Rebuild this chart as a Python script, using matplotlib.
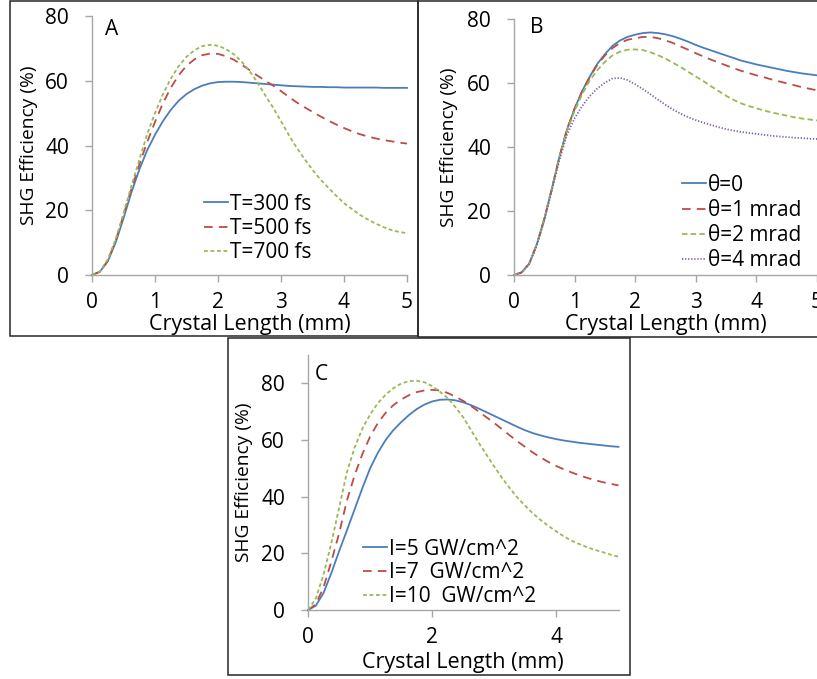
import matplotlib
matplotlib.use("Agg")
import matplotlib.pyplot as plt
from matplotlib.patches import Rectangle

plt.rcParams['font.family'] = ['Open Sans', 'DejaVu Sans']

# crystal length (mm)
length = [0, 0.125, 0.25, 0.375, 0.5, 0.625, 0.75, 0.875, 1, 1.125, 1.25,
          1.375, 1.5, 1.625, 1.75, 1.875, 2, 2.125, 2.25, 2.375, 2.5,
          2.625, 2.75, 2.875, 3, 3.125, 3.25, 3.375, 3.5, 3.625, 3.75,
          3.875, 4, 4.125, 4.25, 4.375, 4.5, 4.625, 4.75, 4.875, 5]

# panel A: pulse duration
t300 = [0, 1, 4.2, 10, 17.5, 25.5, 32.5, 38.5, 43.3, 47.5, 51,
        53.8, 55.9, 57.4, 58.5, 59.2, 59.6, 59.7, 59.7, 59.6, 59.4,
        59.2, 59, 58.8, 58.6, 58.4, 58.3, 58.2, 58.1, 58.1, 58,
        58, 57.9, 57.9, 57.9, 57.9, 57.9, 57.8, 57.8, 57.8, 57.8]
t500 = [0, 1, 4.4, 10.5, 18.5, 26.5, 34, 41, 47.3, 53, 57.8,
        61.7, 64.6, 66.6, 67.9, 68.4, 68.3, 67.6, 66.5, 65, 63.3,
        61.6, 60, 58.5, 56.8, 55, 53.3, 51.8, 50.4, 49, 47.7,
        46.5, 45.4, 44.4, 43.5, 42.8, 42.2, 41.7, 41.3, 40.9, 40.6]
t700 = [0, 1.1, 4.8, 11, 19, 27.5, 35.5, 43.5, 50, 55.8, 60.6,
        64.5, 67.4, 69.4, 70.7, 71.1, 70.8, 69.8, 68.2, 65.9, 63,
        59.5, 55.5, 51.7, 47.5, 43.2, 39.3, 35.8, 32.5, 29.5, 27,
        24.5, 22.2, 20.4, 18.6, 17.2, 15.9, 14.8, 13.9, 13.3, 12.9]

# panel B: angular mismatch
th0 = [0, 0.8, 3.5, 9.5, 17.5, 27, 37, 45.5, 52, 57.5, 62,
       66, 69, 71.6, 73.3, 74.4, 75.1, 75.6, 75.8, 75.6, 75.2,
       74.6, 73.8, 72.9, 71.9, 71, 70.2, 69.4, 68.6, 67.8, 67,
       66.4, 65.8, 65.3, 64.8, 64.3, 63.8, 63.4, 63, 62.7, 62.4]
th1 = [0, 0.8, 3.5, 9.5, 17.5, 27, 37, 45.5, 52, 57.4, 61.8,
       65.7, 68.6, 70.9, 72.5, 73.5, 74, 74.4, 74.4, 74, 73.3,
       72.5, 71.4, 70.4, 69.3, 68.3, 67.3, 66.4, 65.5, 64.6, 63.8,
       63.1, 62.4, 61.8, 61.1, 60.5, 59.9, 59.3, 58.7, 58.2, 57.7]
th2 = [0, 0.8, 3.5, 9.5, 17.5, 27, 36.8, 45, 51.3, 56.5, 60.8,
       64, 66.6, 68.6, 69.8, 70.4, 70.5, 70.3, 69.6, 68.7, 67.6,
       66.3, 65, 63.5, 62, 60.6, 59, 57.5, 56, 54.7, 53.6,
       52.8, 52.1, 51.4, 50.8, 50.3, 49.8, 49.3, 48.9, 48.6, 48.3]
th4 = [0, 0.8, 3.4, 9.2, 17, 26.5, 36, 43.8, 49, 52.8, 55.9,
       58.3, 60.1, 61.4, 61.6, 60.9, 59.6, 58.1, 56.5, 54.8, 53.2,
       51.7, 50.4, 49.3, 48.4, 47.6, 46.9, 46.2, 45.6, 45.1, 44.7,
       44.4, 44.1, 43.8, 43.5, 43.3, 43.1, 42.9, 42.8, 42.6, 42.5]

# panel C: pump intensity
i5 = [0, 1.5, 6, 13, 20.7, 28, 35.5, 43, 50, 55.5, 60,
      63.5, 66.3, 68.8, 70.9, 72.5, 73.6, 74.2, 74.3, 74, 73.3,
      72.3, 71.1, 69.8, 68.5, 67.2, 65.9, 64.6, 63.4, 62.4, 61.6,
      60.9, 60.3, 59.8, 59.4, 59, 58.7, 58.4, 58.1, 57.8, 57.6]
i7 = [0, 2, 8, 17, 27, 38.5, 47.5, 55, 61.2, 66, 69.6,
      72.3, 74.3, 75.8, 76.9, 77.5, 77.7, 77.5, 76.6, 75.3, 73.8,
      72, 70, 68, 66, 63.8, 61.6, 59.5, 57.5, 55.5, 53.8,
      52.2, 50.8, 49.6, 48.5, 47.5, 46.6, 45.8, 45.1, 44.5, 44]
i10 = [0, 4, 12.5, 23.5, 36, 48.5, 57.3, 64, 69, 73, 76,
       78.3, 79.9, 80.8, 80.9, 80.4, 79, 77, 74.8, 71.6, 68,
       63.5, 59, 54.8, 50.6, 46.6, 43, 39.6, 36.7, 34, 31.7,
       29.6, 27.7, 25.9, 24.4, 23.2, 22.1, 21.2, 20.4, 19.5, 18.8]

BLUE = '#4a7ebb'
RED = '#be4b48'
GREEN = '#98b954'
PURPLE = '#7d60a0'
LW = 1.3
SOLID = '-'
LONG_DASH = (0, (4.8, 3.4))
SHORT_DASH = (0, (2.1, 1.5))
MID_DASH = (0, (3.0, 1.8))
DOT = (0, (0.7, 1.0))
FS = 15
AXC = '#a6a6a6'

fig = plt.figure(figsize=(8.17, 6.79), dpi=100)


def style_axes(ax, ymax, xticks, ylab_x, xlab_y):
    ax.set_xlim(0, 5)
    ax.set_ylim(0, ymax)
    ax.set_xticks(xticks)
    ax.set_yticks([0, 20, 40, 60, 80])
    for s in ['top', 'right']:
        ax.spines[s].set_visible(False)
    for s in ['left', 'bottom']:
        ax.spines[s].set_color(AXC)
        ax.spines[s].set_linewidth(1.0)
    ax.tick_params(axis='both', direction='out', length=5, width=1.0,
                   color=AXC, labelsize=FS, labelcolor='black')
    ax.tick_params(axis='x', pad=7.5)
    ax.tick_params(axis='y', pad=11.5)
    ax.set_xlabel('Crystal Length (mm)', fontsize=15.5)
    ax.set_ylabel('SHG Efficiency (%)', fontsize=13.8)
    ax.xaxis.set_label_coords(0.5, xlab_y)
    ax.yaxis.set_label_coords(ylab_x, 0.5)
    ax.patch.set_alpha(0)


def add_lines(ax, series, labels, colors, dashes, leg_x, leg_y, spacing):
    for ys, lab, c, ls in zip(series, labels, colors, dashes):
        ax.plot(length, ys, color=c, lw=LW, linestyle=ls, label=lab,
                clip_on=False)
    ax.legend(loc='upper left', bbox_to_anchor=(leg_x, leg_y), frameon=False,
              fontsize=FS, borderpad=0, borderaxespad=0, handlelength=1.15,
              handletextpad=0.1, labelspacing=spacing)


# panel A
axA = fig.add_axes([92 / 817, 1 - 275 / 679, 315 / 817, 259 / 679])
add_lines(axA, [t300, t500, t700], ['T=300 fs', 'T=500 fs', 'T=700 fs'],
          [BLUE, RED, GREEN], [SOLID, LONG_DASH, SHORT_DASH],
          0.356, 0.314, 0.15)
style_axes(axA, 80, [0, 1, 2, 3, 4, 5], -0.172, -0.152)
axA.text(0.041, 0.946, 'A', transform=axA.transAxes, fontsize=FS,
         ha='left', va='center')

# panel B
axB = fig.add_axes([514 / 817, 1 - 275 / 679, 303 / 817, 256 / 679])
add_lines(axB, [th0, th1, th2, th4],
          ['\u03b8=0', '\u03b8=1 mrad', '\u03b8=2 mrad', '\u03b8=4 mrad'],
          [BLUE, RED, GREEN, PURPLE], [SOLID, LONG_DASH, MID_DASH, DOT],
          0.554, 0.392, 0.2)
style_axes(axB, 80, [0, 1, 2, 3, 4, 5], -0.186, -0.154)
axB.text(0.053, 0.965, 'B', transform=axB.transAxes, fontsize=FS,
         ha='left', va='center')

# panel C
axC = fig.add_axes([308 / 817, 1 - 610 / 679, 310.5 / 817, 255 / 679])
add_lines(axC, [i5, i7, i10],
          ['I=5 GW/cm^2', 'I=7  GW/cm^2', 'I=10  GW/cm^2'],
          [BLUE, RED, GREEN], [SOLID, LONG_DASH, SHORT_DASH],
          0.177, 0.28, 0.13)
style_axes(axC, 90, [0, 2, 4], -0.177, -0.163)
axC.text(0.023, 0.924, 'C', transform=axC.transAxes, fontsize=FS,
         ha='left', va='center')

# panel frames
for x0, y0, x1, y1 in [(10, 1, 418, 336), (418, 1, 830, 337), (228, 338, 630, 675)]:
    fig.add_artist(Rectangle((x0 / 817, 1 - y1 / 679), (x1 - x0) / 817,
                             (y1 - y0) / 679, transform=fig.transFigure,
                             fill=False, edgecolor='#262626', lw=1.1))

fig.savefig('out.png', dpi=100, facecolor='white')
